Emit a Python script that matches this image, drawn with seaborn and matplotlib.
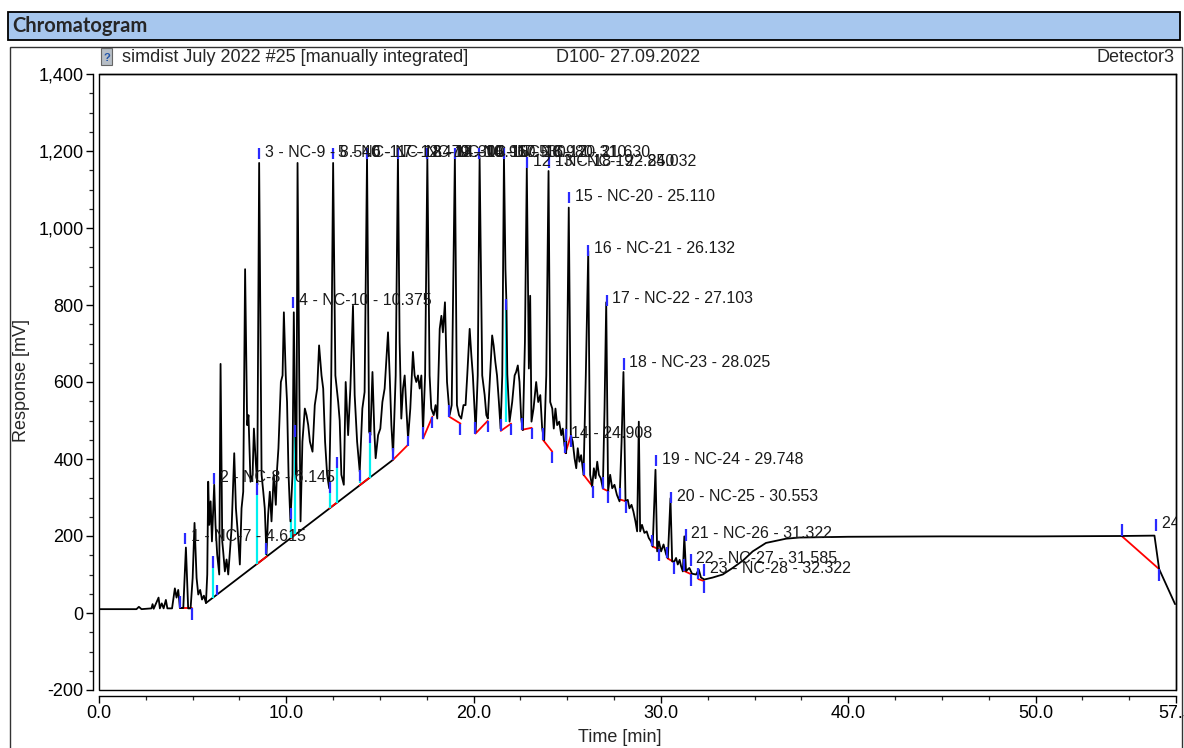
import matplotlib
matplotlib.use("Agg")
import matplotlib.pyplot as plt
from matplotlib.patches import Rectangle
from matplotlib.ticker import FixedLocator, MultipleLocator, FuncFormatter
from matplotlib.transforms import offset_copy
import pandas as pd
import seaborn as sns

sns.set_style("white")
plt.rcParams["font.family"] = ["Liberation Sans", "DejaVu Sans"]

W, H = 1184, 748

# ── chromatogram trace (Time [min], Response [mV]) ──
trace_t = [
    0.0, 2.0, 2.13, 2.27, 2.8, 2.86, 2.92, 3.18, 3.25, 3.35, 3.45, 3.57, 3.65, 3.9,
    4.05, 4.14, 4.23, 4.32, 4.5, 4.64, 4.76, 4.89, 5.0, 5.1, 5.21, 5.3, 5.4, 5.5,
    5.6, 5.71, 5.78, 5.83, 5.89, 5.96, 6.03, 6.1, 6.15, 6.22, 6.31, 6.42, 6.49,
    6.58, 6.63, 6.72, 6.81, 6.9, 6.99, 7.08, 7.22, 7.31, 7.43, 7.52, 7.61, 7.7,
    7.8, 7.91, 7.98, 8.09, 8.2, 8.27, 8.37, 8.45, 8.55, 8.68, 8.77, 8.85, 8.94,
    9.03, 9.12, 9.21, 9.33, 9.44, 9.51, 9.58, 9.71, 9.8, 9.87, 9.97, 10.04, 10.12,
    10.22, 10.33, 10.4, 10.47, 10.54, 10.6, 10.69, 10.76, 10.86, 10.99, 11.08,
    11.17, 11.26, 11.4, 11.52, 11.65, 11.75, 11.88, 11.97, 12.07, 12.18, 12.29,
    12.4, 12.5, 12.62, 12.77, 12.85, 12.94, 13.07, 13.17, 13.3, 13.42, 13.56,
    13.65, 13.78, 13.92, 14.06, 14.18, 14.31, 14.42, 14.49, 14.6, 14.7, 14.77,
    14.9, 15.02, 15.13, 15.25, 15.43, 15.52, 15.61, 15.7, 15.84, 15.96, 16.05,
    16.14, 16.23, 16.32, 16.41, 16.5, 16.62, 16.76, 16.85, 16.94, 17.03, 17.12,
    17.21, 17.3, 17.41, 17.53, 17.65, 17.74, 17.87, 17.97, 18.06, 18.19, 18.28,
    18.36, 18.47, 18.58, 18.72, 18.83, 19.0, 19.11, 19.22, 19.34, 19.46, 19.57,
    19.66, 19.79, 19.88, 19.96, 20.11, 20.22, 20.32, 20.46, 20.59, 20.68, 20.76,
    20.88, 20.99, 21.07, 21.16, 21.25, 21.35, 21.44, 21.53, 21.62, 21.7, 21.75,
    21.8, 21.92, 22.06, 22.19, 22.27, 22.36, 22.45, 22.54, 22.63, 22.74, 22.84,
    22.95, 23.02, 23.09, 23.2, 23.34, 23.45, 23.56, 23.66, 23.77, 23.88, 24.0,
    24.09, 24.2, 24.28, 24.37, 24.46, 24.57, 24.68, 24.76, 24.85, 24.94, 25.08,
    25.19, 25.29, 25.39, 25.48, 25.56, 25.65, 25.74, 25.87, 25.99, 26.12, 26.22,
    26.33, 26.42, 26.51, 26.6, 26.69, 26.79, 26.9, 26.99, 27.08, 27.18, 27.29,
    27.4, 27.52, 27.65, 27.79, 27.9, 28.0, 28.11, 28.23, 28.32, 28.43, 28.53,
    28.64, 28.73, 28.82, 28.89, 28.99, 29.12, 29.24, 29.35, 29.47, 29.56, 29.71,
    29.8, 29.89, 30.01, 30.14, 30.28, 30.37, 30.51, 30.6, 30.72, 30.81, 30.9,
    31.0, 31.08, 31.17, 31.25, 31.34, 31.52, 31.66, 31.88, 32.02, 32.14, 32.32,
    32.76, 33.3, 33.83, 34.4, 34.9, 35.61, 36.68, 37.39, 40.0, 45.0, 50.0, 54.6,
    56.35, 56.6, 57.45,
]
trace_mv = [
    10, 10, 16, 10, 12, 23, 11, 40, 12, 25, 12, 34, 12, 12,
    64, 40, 60, 13, 13, 170, 12, 12, 91, 234, 91, 48, 60, 35,
    45, 26, 100, 341, 229, 290, 186, 272, 333, 229, 152, 100, 647,
    186, 160, 108, 139, 100, 160, 221, 415, 272, 195, 126, 272, 315,
    893, 488, 514, 341, 359, 479, 393, 333, 1169, 359, 315, 272, 152,
    255, 315, 238, 359, 281, 376, 428, 600, 617, 781, 617, 548, 359,
    238, 359, 781, 497, 359, 1169, 617, 238, 445, 531, 514,
    488, 445, 419, 540, 583, 695, 617, 583, 445, 359, 324,
    617, 1169, 617, 548, 500, 359, 333, 600, 462, 583, 798,
    566, 445, 367, 531, 574, 1187, 471, 462, 626, 471, 402,
    462, 479, 548, 583, 729, 617, 488, 410, 617, 1187, 704,
    505, 583, 617, 531, 453, 531, 678, 617, 600, 617, 583,
    617, 471, 617, 1182, 617, 531, 514, 540, 505, 738, 772,
    729, 807, 600, 514, 540, 1187, 540, 514, 505, 540, 540,
    617, 738, 669, 617, 471, 617, 1182, 617, 566, 514, 505,
    617, 721, 695, 652, 617, 548, 479, 617, 1187, 893, 810,
    620, 497, 548, 617, 626, 643, 600, 505, 475, 704, 1156,
    635, 824, 497, 531, 600, 548, 566, 479, 449, 617, 1148,
    548, 531, 479, 531, 488, 497, 462, 479, 436, 415, 1053,
    462, 445, 402, 376, 428, 393, 410, 359, 617, 940, 359,
    328, 376, 350, 393, 359, 350, 324, 531, 807, 316, 359,
    324, 333, 307, 290, 445, 626, 290, 294, 272, 281, 264,
    238, 212, 497, 212, 229, 208, 212, 195, 186, 173, 372,
    160, 186, 160, 178, 152, 143, 298, 134, 134, 143, 126,
    138, 121, 108, 199, 109, 117, 102, 100, 113, 92, 87,
    92, 100, 117, 137, 160, 182, 193, 196, 198, 199, 199, 200,
    201, 114, 23,
]

# long integration baseline under the first peak group
base_t = [5.71, 15.7]
base_mv = [26, 398]

# red baseline pieces lying on the long baseline (no end ticks)
onbase_t0 = [8.43, 10.27, 12.3, 13.92, 15.7]
onbase_v0 = [127, 195, 272, 332, 398]
onbase_t1 = [8.96, 10.45, 12.7, 14.45, 16.5]
onbase_v1 = [147, 204, 287, 352, 437]

# red baseline segments with start / end ticks
seg_t0 = [4.3, 17.3, 18.7, 20.1, 21.45, 22.6, 23.7, 24.9, 25.87, 26.9, 27.8,
          29.55, 30.35, 31.25, 32.0, 54.6]
seg_v0 = [13, 453, 510, 466, 473, 476, 450, 415, 359, 323, 295,
          173, 142, 109, 88, 200]
seg_t1 = [4.95, 17.8, 19.3, 20.75, 22.0, 23.1, 24.2, 25.2, 26.35, 27.2, 28.15,
          29.9, 30.7, 31.6, 32.3, 56.6]
seg_v1 = [13, 510, 492, 499, 492, 481, 419, 462, 329, 316, 290,
          165, 132, 101, 83, 114]

# perpendicular drops (baseline -> trace)
drop_t = [6.1, 6.28, 8.41, 8.94, 10.27, 10.45, 12.32, 12.71, 13.92, 14.45,
          15.7, 16.5, 21.71]
drop_lo = [40, 48, 126, 150, 195, 204, 273, 287, 337, 350, 398, 434, 497]
drop_hi = [148, 74, 337, 182, 273, 488, 341, 406, 372, 471, 428, 460, 816]

# peak labels
label_t = [4.615, 6.145, 8.540, 10.375, 12.470, 14.300, 15.960, 17.530, 18.980,
           20.310, 21.630, 22.850, 24.032, 24.908, 25.110, 26.132, 27.103,
           28.025, 29.748, 30.553, 31.322, 31.585, 32.322, 56.430]
label_mv = [194, 349, 1193, 807, 1193, 1193, 1193, 1193, 1193,
            1193, 1193, 1170, 1170, 463, 1079, 942, 812,
            647, 396, 300, 202, 137, 112, 228]
label_text = [
    "1 - NC-7 - 4.615", "2 - NC-8 - 6.145", "3 - NC-9 - 8.540",
    "4 - NC-10 - 10.375", "5 - NC-11 - 12.470", "6 - NC-12 - 14.300",
    "7 - NC-13 - 15.960", "8 - NC-14 - 17.530", "9 - NC-15 - 18.980",
    "10 - NC-16 - 20.310", "11 - NC-17 - 21.630", "12 - NC-18 - 22.850",
    "13 - NC-19 - 24.032", "14 - 24.908", "15 - NC-20 - 25.110",
    "16 - NC-21 - 26.132", "17 - NC-22 - 27.103", "18 - NC-23 - 28.025",
    "19 - NC-24 - 29.748", "20 - NC-25 - 30.553", "21 - NC-26 - 31.322",
    "22 - NC-27 - 31.585", "23 - NC-28 - 32.322", "24 - NC-29 - 56.430",
]

x_ticks = [0.0, 10.0, 20.0, 30.0, 40.0, 50.0, 57.5]

BLUE = "#2a2aff"
CYAN = "#00f0f0"
TICK_MV = 30

fig = plt.figure(figsize=(W / 100, H / 100), dpi=100)

# header bar + outer frame
fig.patches.append(Rectangle((8 / W, 1 - 40 / H), 1172 / W, 28 / H, transform=fig.transFigure,
                             facecolor="#A7C7EE", edgecolor="black", lw=1.3))
fig.text(12 / W, 1 - 26 / H, "Chromatogram", fontsize=14.5, fontweight="bold",
         family=["Lato", "DejaVu Sans"], va="center", ha="left")
fig.patches.append(Rectangle((10 / W, -0.05), 1172 / W, 1.05 - 47 / H, transform=fig.transFigure,
                             facecolor="none", edgecolor="#333333", lw=1.0))

# sub header
fig.patches.append(Rectangle((101 / W, 1 - 65 / H), 11 / W, 17 / H, transform=fig.transFigure,
                             facecolor="#b7bec6", edgecolor="#666666", lw=0.8))
fig.text(106.5 / W, 1 - 58 / H, "?", fontsize=8, color="#2255aa", ha="center", va="center",
         fontweight="bold")
fig.text(122 / W, 1 - 57 / H, "simdist July 2022 #25 [manually integrated]", fontsize=13,
         ha="left", va="center")
fig.text(556 / W, 1 - 57 / H, "D100- 27.09.2022", fontsize=13, ha="left", va="center")
fig.text(1175 / W, 1 - 57 / H, "Detector3", fontsize=13, ha="right", va="center")

ax = fig.add_axes([99 / W, 1 - 690 / H, (1176 - 99) / W, (690 - 74) / H])

df = pd.DataFrame({"time": trace_t, "response": trace_mv})
sns.lineplot(data=df, x="time", y="response", sort=False, estimator=None,
             color="black", lw=1.3, ax=ax, zorder=3)

# baselines
ax.plot(base_t, base_mv, color="black", lw=1.3, zorder=2)
for t0, v0, t1, v1 in zip(onbase_t0, onbase_v0, onbase_t1, onbase_v1):
    ax.plot([t0, t1], [v0, v1], color="red", lw=1.3, zorder=2.5)
for t0, v0, t1, v1 in zip(seg_t0, seg_v0, seg_t1, seg_v1):
    ax.plot([t0, t1], [v0, v1], color="red", lw=1.3, zorder=2.5)
    ax.vlines(t0, v0, v0 + TICK_MV, color=BLUE, lw=1.6, zorder=4)
    ax.vlines(t1, v1 - TICK_MV, v1, color=BLUE, lw=1.6, zorder=4)

# drop lines
for t, lo, hi in zip(drop_t, drop_lo, drop_hi):
    mid = max(lo, hi - TICK_MV)
    if mid > lo:
        ax.vlines(t, lo, mid, color=CYAN, lw=1.6, zorder=2.8)
    ax.vlines(t, mid, hi, color=BLUE, lw=1.6, zorder=4)

# peak labels, clipped at the plot frame like the original
text_tr = offset_copy(ax.transData, fig=fig, x=4, y=1, units="points")
for t, v, s in zip(label_t, label_mv, label_text):
    ax.vlines(t, v - 15, v + 15, color=BLUE, lw=1.6, zorder=4)
    ax.text(t, v, s, transform=text_tr, ha="left", va="center", fontsize=11.5,
            color="#1a1a1a", zorder=5, clip_on=True)

ax.set_xlim(0, 57.5)
ax.set_ylim(-200, 1400)
ax.xaxis.set_major_locator(FixedLocator(x_ticks))
ax.xaxis.set_minor_locator(MultipleLocator(2.5))
ax.xaxis.set_major_formatter(FuncFormatter(lambda v, p: f"{v:.1f}"))
ax.yaxis.set_major_locator(MultipleLocator(200))
ax.yaxis.set_minor_locator(MultipleLocator(50))
ax.yaxis.set_major_formatter(FuncFormatter(lambda v, p: f"{v:,.0f}"))
ax.set_xlabel("")
ax.set_ylabel("")

for side in ["left", "bottom"]:
    ax.spines[side].set_position(("outward", 4))
for sp in ax.spines.values():
    sp.set_color("black")
    sp.set_linewidth(1.0)
ax.add_patch(Rectangle((0, 0), 1, 1, transform=ax.transAxes, fill=False,
                       edgecolor="black", lw=1.0, clip_on=False, zorder=6))
ax.tick_params(which="major", direction="out", length=5, width=1.0, labelsize=13,
               pad=2, colors="black", left=True, bottom=True)
ax.tick_params(which="minor", direction="out", length=3, width=0.9, left=True, bottom=True)

fig.text(22 / W, 1 - 380 / H, "Response [mV]", rotation=90, fontsize=13, ha="center", va="center")
fig.text(620 / W, 1 - 737 / H, "Time [min]", fontsize=13, ha="center", va="center")

fig.savefig("out.png", dpi=100)
